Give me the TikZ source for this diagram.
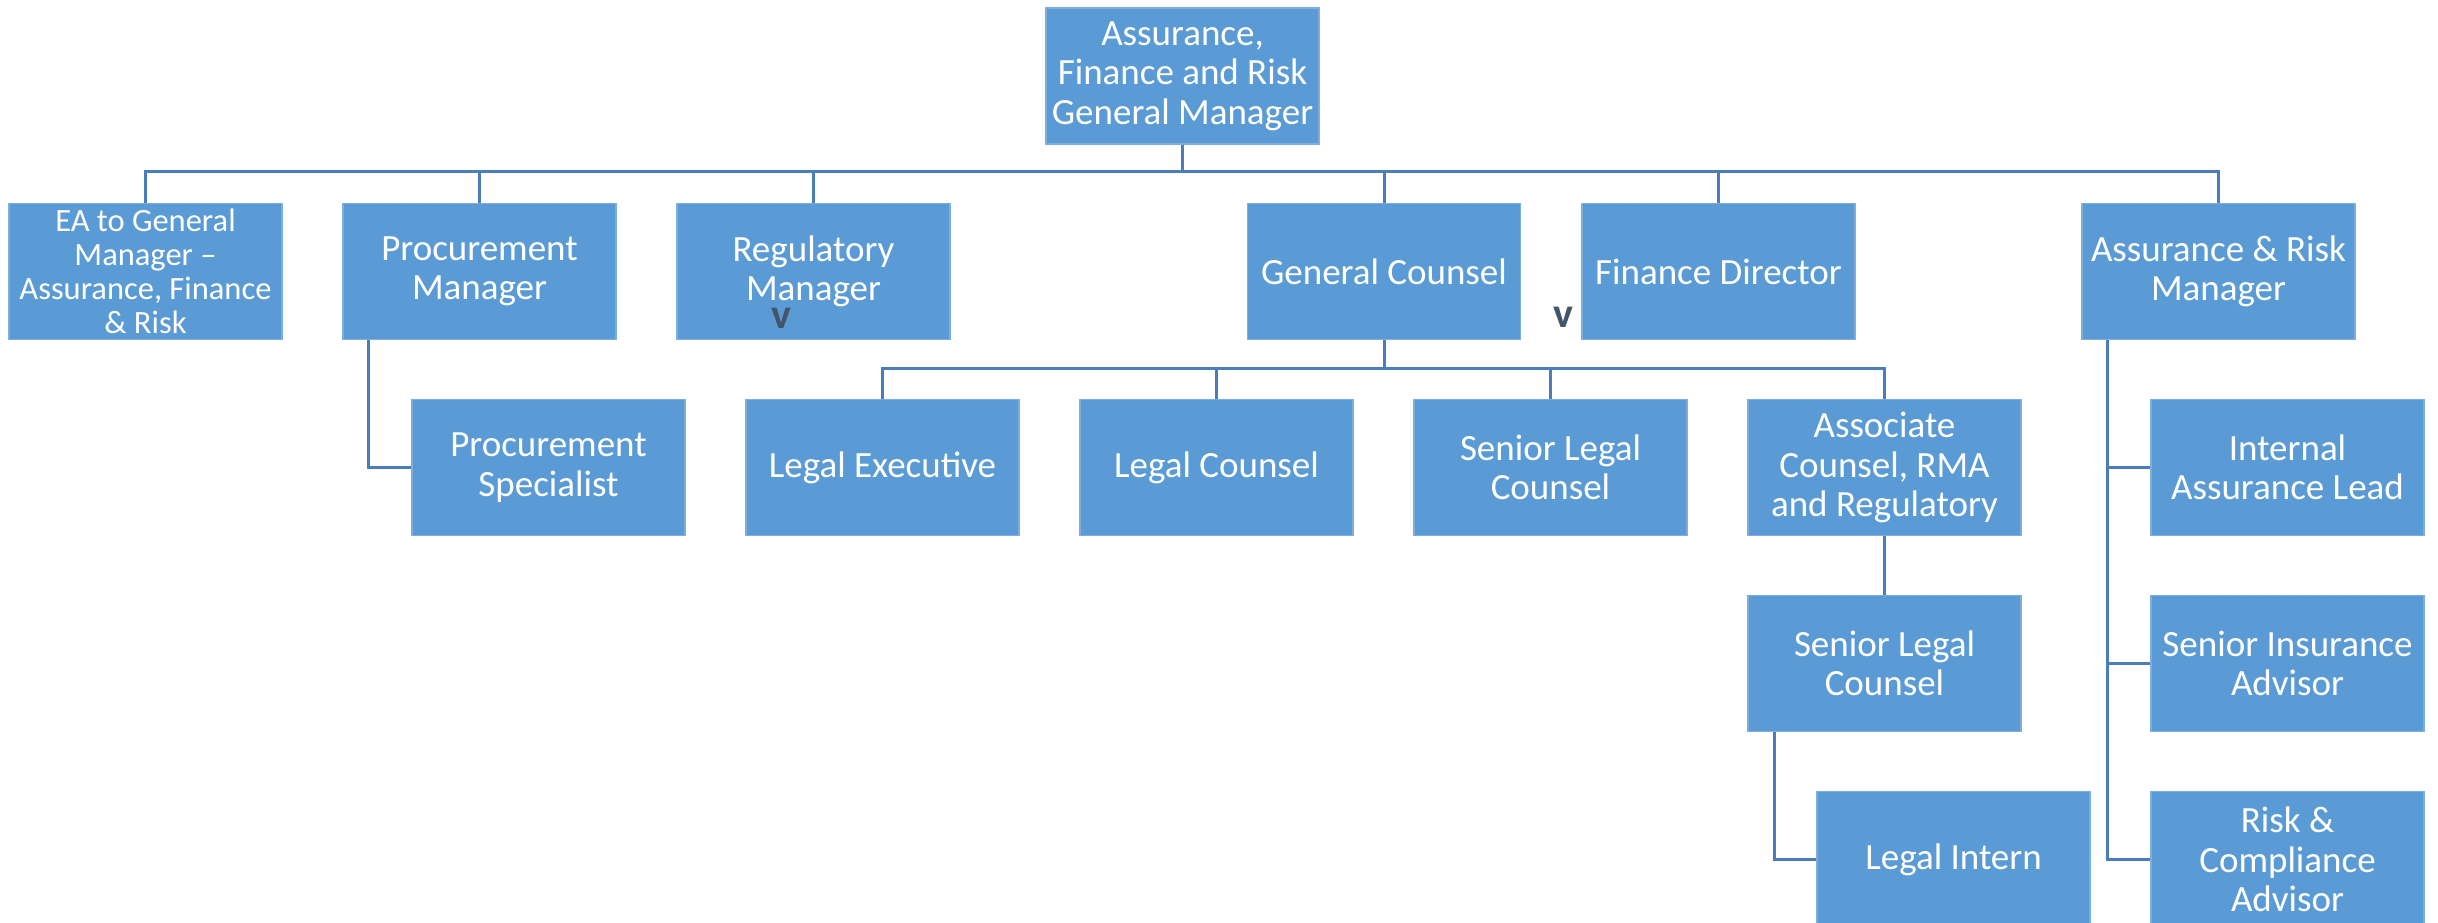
\documentclass[tikz,border=0pt]{standalone}
\usepackage{fontspec}
\setmainfont{Carlito}
\definecolor{boxblue}{HTML}{5B9BD5}
\definecolor{boxedge}{HTML}{7DAEDF}
\definecolor{linkblue}{HTML}{4A7EBB}
\definecolor{vgrey}{HTML}{44546A}
\tikzset{
  orgbox/.style={rectangle, fill=boxblue, draw=boxedge, line width=1.2pt,
    minimum width=273pt, minimum height=136pt, inner sep=0pt,
    align=center, text=white, font=\fontsize{37}{39.5}\selectfont},
  link/.style={draw=linkblue, line width=3pt},
  stray/.style={text=vgrey, font=\bfseries\fontsize{42}{42}\selectfont, inner sep=0pt}
}
\begin{document}
\begin{tikzpicture}[x=1pt,y=-1pt]
\useasboundingbox (0,0) rectangle (2438,923);
\clip (0,0) rectangle (2438,923);
\fill[white] (0,0) rectangle (2438,923);
% nodes
\node[orgbox] (top) at (1182.5,76) {Assurance,\\Finance and Risk\\General Manager};
\node[orgbox, font=\fontsize{32.5}{34}\selectfont] (ea) at (145.5,271.5) {EA to General\\Manager –\\Assurance, Finance\\\& Risk};
\node[orgbox] (pm) at (479.5,271.5) {Procurement\\Manager};
\node[orgbox] (rm) at (813.5,271.5) {Regulatory\\Manager};
\node[orgbox] (gc) at (1384,271.5) {General Counsel};
\node[orgbox] (fd) at (1718.5,271.5) {Finance Director};
\node[orgbox] (arm) at (2218.5,271.5) {Assurance \& Risk\\Manager};
\node[orgbox] (ps) at (548.5,467.5) {Procurement\\Specialist};
\node[orgbox] (le) at (882.5,467.5) {Legal Executive};
\node[orgbox] (lc) at (1216.5,467.5) {Legal Counsel};
\node[orgbox] (slc) at (1550.5,467.5) {Senior Legal\\Counsel};
\node[orgbox] (acr) at (1884.5,467.5) {Associate\\Counsel, RMA\\and Regulatory};
\node[orgbox] (ial) at (2287.5,467.5) {Internal\\Assurance Lead};
\node[orgbox] (slc2) at (1884.5,663.5) {Senior Legal\\Counsel};
\node[orgbox] (sia) at (2287.5,663.5) {Senior Insurance\\Advisor};
\node[orgbox] (li) at (1953.5,859.5) {Legal Intern};
\node[orgbox] (rca) at (2287.5,859.5) {Risk \&\\Compliance\\Advisor};
% stray marks
\node[stray] (v1) at (781,318) {v};
\node[stray] (v2) at (1563,317) {v};
% connectors
\foreach \c in {ea,pm,rm,gc,fd,arm}
  \draw[link] (top.south) |- ([yshift=31pt]\c.north) -- (\c.north);
\draw[link] ([xshift=26pt]pm.south west) |- (ps.west);
\foreach \c in {le,lc,slc,acr}
  \draw[link] (gc.south) |- ([yshift=30pt]\c.north) -- (\c.north);
\draw[link] (acr.south) -- (slc2.north);
\draw[link] ([xshift=27pt]slc2.south west) |- (li.west);
\foreach \c in {ial,sia,rca}
  \draw[link] ([xshift=26pt]arm.south west) |- (\c.west);
\end{tikzpicture}
\end{document}
